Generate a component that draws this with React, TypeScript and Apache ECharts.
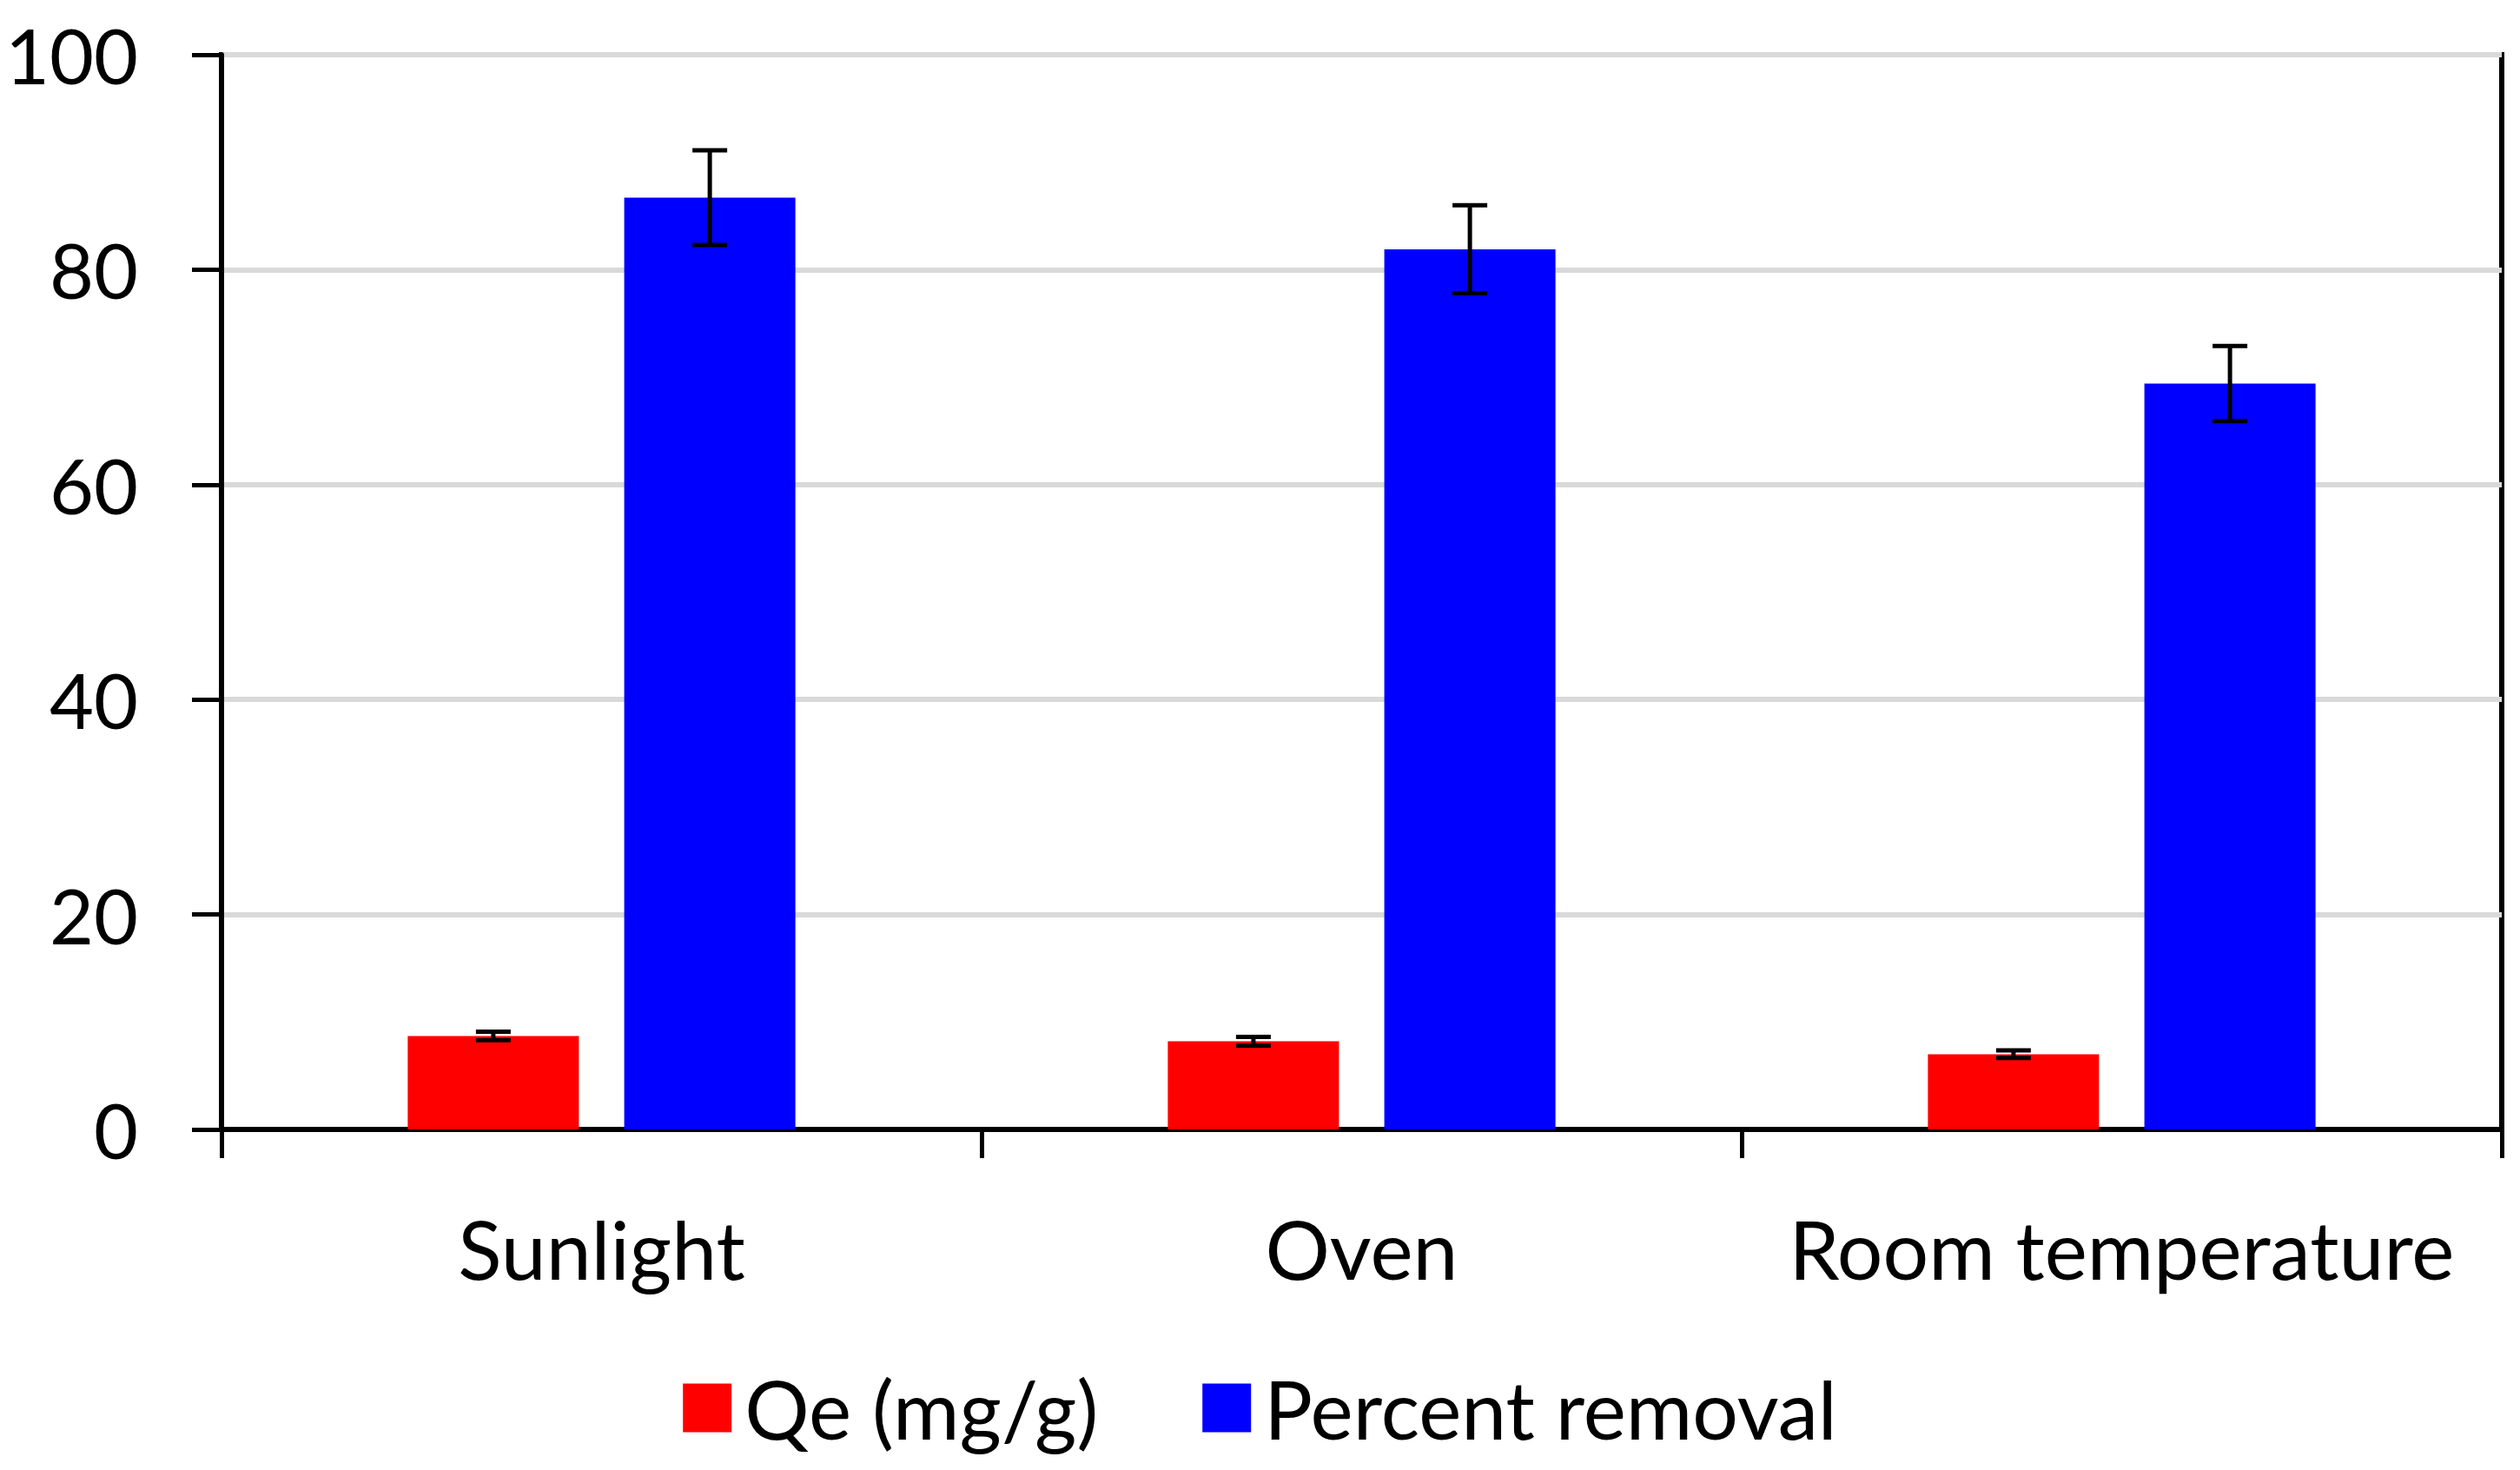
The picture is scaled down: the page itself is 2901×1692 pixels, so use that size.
import React, { useEffect, useRef } from "react";
import * as echarts from "echarts";

const categories = ["Sunlight", "Oven", "Room temperature"];
const qeValues = [8.7, 8.2, 7.0];
const qeErrors = [0.4, 0.4, 0.35];
const removalValues = [86.7, 81.9, 69.4];
const removalErrors = [4.4, 4.1, 3.5];
const yTicks = { min: 0, max: 100, interval: 20 };

const FONT = "Lato";
const CAT_GAP = 0.49;
const BAR_GAP = 0.265;

function errorSeries(values: number[], errors: number[], sign: number, name: string) {
  return {
    type: "custom",
    name,
    z: 10,
    silent: true,
    data: values.map((v, i) => [i, v - errors[i], v + errors[i]]),
    renderItem: (params: any, api: any) => {
      const idx = api.value(0);
      const band = api.size([1, 0])[0];
      const barW = (band * (1 - CAT_GAP)) / (2 + BAR_GAP);
      const off = sign * (barW * (1 + BAR_GAP)) / 2;
      const lo = api.coord([idx, api.value(1)]);
      const hi = api.coord([idx, api.value(2)]);
      const x = lo[0] + off;
      const cap = 20;
      const style = { stroke: "#000", lineWidth: 5 };
      return {
        type: "group",
        children: [
          { type: "line", shape: { x1: x, y1: lo[1], x2: x, y2: hi[1] }, style },
          { type: "line", shape: { x1: x - cap, y1: hi[1], x2: x + cap, y2: hi[1] }, style },
          { type: "line", shape: { x1: x - cap, y1: lo[1], x2: x + cap, y2: lo[1] }, style },
        ],
      };
    },
  };
}

export default function App() {
  const ref = useRef<HTMLDivElement>(null);
  useEffect(() => {
    document.body.style.margin = "0";
    const chart = echarts.init(ref.current!, null, { renderer: "svg" });
    chart.setOption({
      animation: false,
      backgroundColor: "#fff",
      grid: {
        left: 255,
        top: 63,
        right: 21,
        bottom: 392,
        show: true,
        borderColor: "#000",
        borderWidth: 6,
        backgroundColor: "transparent",
      },
      legend: {
        bottom: 20,
        left: "center",
        itemWidth: 56,
        itemHeight: 56,
        itemGap: 120,
        icon: "rect",
        textStyle: { fontFamily: FONT, fontSize: 93, color: "#000", padding: [0, 0, 0, 10] },
        data: ["Qe (mg/g)", "Percent removal"],
      },
      xAxis: {
        type: "category",
        data: categories,
        axisLine: { lineStyle: { color: "#000", width: 6 } },
        axisTick: { show: true, interval: 0, length: 33, lineStyle: { color: "#000", width: 5 } },
        axisLabel: { interval: 0, fontFamily: FONT, fontSize: 93, color: "#000", margin: 90 },
      },
      yAxis: {
        type: "value",
        min: yTicks.min,
        max: yTicks.max,
        interval: yTicks.interval,
        axisLine: { show: true, lineStyle: { color: "#000", width: 6 } },
        axisTick: { show: true, length: 34, lineStyle: { color: "#000", width: 5 } },
        axisLabel: { fontFamily: FONT, fontSize: 88, color: "#000", margin: 96 },
        splitLine: { lineStyle: { color: "#d9d9d9", width: 6 } },
      },
      series: [
        {
          type: "bar",
          name: "Qe (mg/g)",
          data: qeValues,
          itemStyle: { color: "#ff0000" },
          barGap: BAR_GAP * 100 + "%",
          barCategoryGap: CAT_GAP * 100 + "%",
        },
        {
          type: "bar",
          name: "Percent removal",
          data: removalValues,
          itemStyle: { color: "#0000ff" },
          barGap: BAR_GAP * 100 + "%",
          barCategoryGap: CAT_GAP * 100 + "%",
        },
        errorSeries(qeValues, qeErrors, -1, "qeErr"),
        errorSeries(removalValues, removalErrors, 1, "remErr"),
      ],
    });
    return () => chart.dispose();
  }, []);
  return <div ref={ref} style={{ width: 2901, height: 1692 }} />;
}
